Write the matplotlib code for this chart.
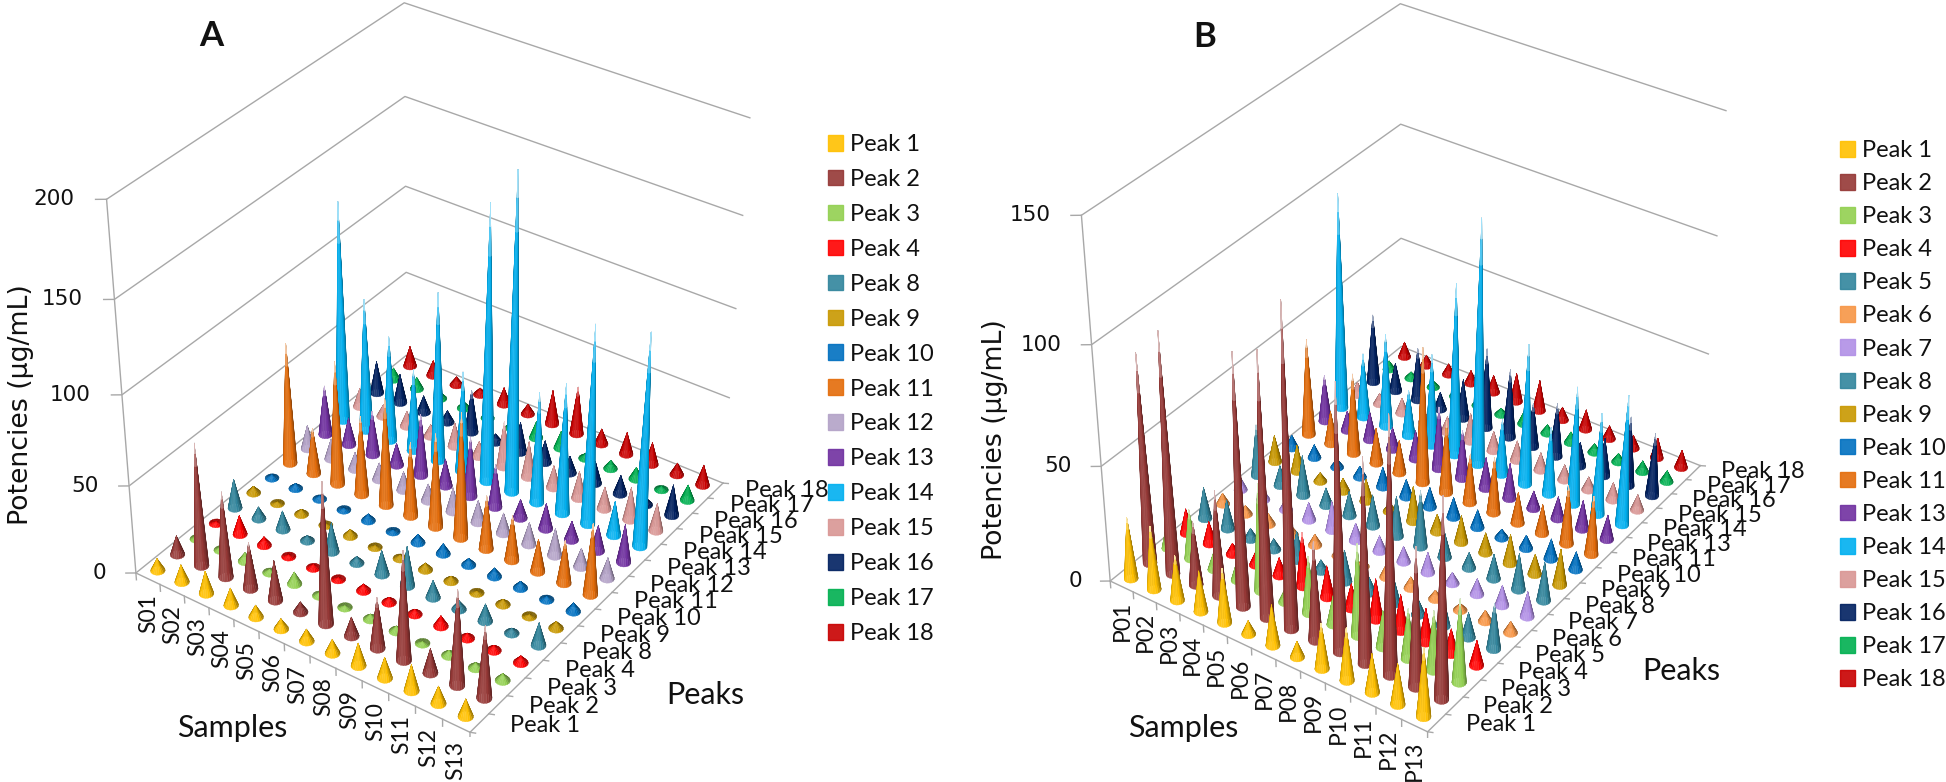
import numpy as np
import matplotlib
matplotlib.use("Agg")
import matplotlib.pyplot as plt
from matplotlib.colors import to_rgb
from matplotlib.patches import Patch
from mpl_toolkits.mplot3d import proj3d
from mpl_toolkits.mplot3d.art3d import Poly3DCollection

W, H = 1946, 782

samples_a = ["S%02d" % i for i in range(1, 14)]
samples_b = ["P%02d" % i for i in range(1, 14)]
peaks_a = [1, 2, 3, 4, 8, 9, 10, 11, 12, 13, 14, 15, 16, 17, 18]
peaks_b = [1, 2, 3, 4, 5, 6, 7, 8, 9, 10, 11, 13, 14, 15, 16, 17, 18]

peak_colors = {
    1: "#FFC000", 2: "#953735", 3: "#92D050", 4: "#FF0000", 5: "#31859C", 6: "#F79646",
    7: "#B18FE6", 8: "#31859C", 9: "#C89800", 10: "#0070C0", 11: "#E46C0A", 12: "#B3A2C7",
    13: "#7030A0", 14: "#00B0F0", 15: "#D99694", 16: "#002060", 17: "#00B050", 18: "#C80000",
}

# chart A, potencies per sample S01..S13
a1 = [7, 10, 13, 10, 7, 6, 7, 8, 13, 12, 15, 10, 10]
a2 = [11, 70, 49, 27, 23, 6, 80, 11, 29, 62, 14, 54, 41]
a3 = [2, 2, 5, 2, 7, 2, 1, 3, 3, 1, 3, 3, 4]
a4 = [1, 11, 5, 1, 2, 1, 4, 3, 3, 6, 3, 3, 4]
a8 = [17, 7, 11, 3, 17, 4, 14, 23, 10, 5, 10, 3, 13]
a9 = [4, 1, 3, 1, 4, 1, 2, 4, 3, 1, 3, 1, 4]
a10 = [2, 3, 2, 1, 4, 1, 5, 6, 4, 5, 4, 2, 5]
a11 = [70, 27, 71, 46, 62, 43, 54, 72, 31, 26, 19, 25, 41]
a12 = [14, 12, 10, 10, 11, 10, 14, 13, 12, 13, 16, 11, 12]
a13 = [29, 16, 26, 13, 36, 16, 35, 25, 11, 15, 11, 15, 22]
a14 = [126, 77, 61, 48, 97, 58, 156, 178, 64, 75, 113, 20, 120]
a15 = [11, 7, 9, 7, 14, 9, 27, 21, 13, 16, 13, 19, 16]
a16 = [19, 17, 10, 7, 25, 5, 18, 13, 10, 13, 11, 4, 18]
a17 = [7, 7, 4, 4, 3, 3, 10, 10, 3, 5, 7, 2, 9]
a18 = [12, 9, 5, 4, 10, 6, 20, 28, 9, 13, 13, 7, 12]
rows_a = [a1, a2, a3, a4, a8, a9, a10, a11, a12, a13, a14, a15, a16, a17, a18]

# chart B, potencies per sample P01..P13
b1 = [27, 28, 20, 18, 24, 6, 18, 7, 20, 23, 17, 18, 30]
b2 = [90, 103, 28, 46, 107, 112, 135, 43, 112, 87, 108, 60, 85]
b3 = [12, 22, 8, 9, 47, 6, 25, 13, 40, 16, 22, 26, 36]
b4 = [11, 10, 5, 6, 8, 24, 14, 11, 18, 16, 15, 11, 11]
b5 = [14, 13, 5, 5, 13, 5, 14, 7, 12, 7, 13, 11, 20]
b6 = [5, 4, 5, 4, 5, 3, 3, 6, 5, 4, 3, 5, 5]
b7 = [6, 5, 5, 8, 13, 8, 7, 7, 9, 5, 7, 9, 11]
b8 = [23, 9, 18, 8, 11, 14, 18, 25, 11, 7, 11, 16, 17]
b9 = [12, 12, 4, 6, 10, 4, 16, 8, 12, 9, 13, 9, 16]
b10 = [6, 6, 4, 5, 9, 8, 9, 9, 8, 4, 6, 9, 8]
b11 = [43, 15, 36, 16, 15, 60, 32, 22, 25, 14, 13, 26, 26]
b13 = [21, 9, 13, 10, 13, 28, 22, 14, 16, 8, 10, 13, 11]
b14 = [95, 29, 42, 21, 41, 76, 107, 25, 62, 30, 52, 45, 57]
b15 = [6, 5, 7, 5, 7, 13, 9, 9, 8, 7, 6, 8, 7]
b16 = [31, 13, 24, 8, 18, 36, 31, 20, 24, 11, 17, 31, 28]
b17 = [4, 3, 3, 3, 3, 3, 6, 4, 5, 4, 4, 5, 5]
b18 = [7, 5, 5, 6, 8, 13, 14, 6, 9, 6, 6, 9, 8]
rows_b = [b1, b2, b3, b4, b5, b6, b7, b8, b9, b10, b11, b13, b14, b15, b16, b17, b18]

GRID = "#A8A8A8"
TEXT = "#111111"
FACETS = 18
RADIUS = 0.235
# height bands of a tall cone: from, to, how far the colour fades to white
TALL_BANDS = [(0, 0.82, 1.0), (0.82, 0.92, 1.25), (0.92, 1.0, 1.6)]
SHORT_BANDS = [(0, 1.0, 1.0)]


def shade(rgb, f):
    rgb = np.array(rgb)
    if f <= 1:
        return tuple(rgb * f)
    return tuple(rgb + (1 - rgb) * (f - 1))


def ring(x, y, a, frac):
    r = RADIUS * (1 - frac)
    return np.array([x + r * np.cos(a), y + r * np.sin(a)])


def cone(ax, x, y, h, color, azim, zmax, z):
    rgb = to_rgb(color)
    ang = np.linspace(0, 2 * np.pi, FACETS + 1)
    bands = TALL_BANDS if h / zmax > 0.12 else SHORT_BANDS
    polys, cols = [], []
    for k in range(FACETS):
        a0, a1_ = ang[k], ang[k + 1]
        mid = (a0 + a1_) / 2 - np.radians(azim) + np.radians(15)
        c = shade(rgb, 0.62 + max(0, 0.5 * np.cos(mid)))
        for lo, hi, fade in bands:
            polys.append([(*ring(x, y, a0, lo), h * lo), (*ring(x, y, a1_, lo), h * lo),
                          (*ring(x, y, a1_, hi), h * hi), (*ring(x, y, a0, hi), h * hi)])
            cols.append(shade(c, fade))
    col = Poly3DCollection(polys, facecolors=cols, edgecolors=cols, linewidths=0.25, zorder=z)
    ax.add_collection3d(col, autolim=False)


def put_text(ax, x, y, z, s, **kw):
    # ax.text would turn the label along a 3d direction, so project it and place it flat
    px, py, _ = proj3d.proj_transform(x, y, z, ax.get_proj())
    ax.text2D(px, py, s, transform=ax.transData, color=TEXT, zorder=2, **kw)


def chart(left, bottom, side, camera, samples, peaks, rows, zmax):
    elev, azim, focal, bx, by = camera
    ax = fig.add_axes([left / W, bottom / H, side / W, side / H], projection="3d",
                      computed_zorder=False)
    ax.patch.set_alpha(0)
    ax.set_axis_off()
    nx, ny = len(samples), len(peaks)
    ax.set_xlim(0, nx, view_margin=0)
    ax.set_ylim(0, ny, view_margin=0)
    ax.set_zlim(0, zmax, view_margin=0)
    ax.view_init(elev=elev, azim=azim)
    ax.set_proj_type("persp", focal_length=focal)
    ax.set_box_aspect((bx, by, 1))

    line = dict(color=GRID, lw=1.0, zorder=1)
    for v in np.arange(0, zmax + 1, 50):
        ax.plot([-0.26, 0, 0, nx], [-0.19, 0, ny, ny], [v, v, v, v], **line)
        put_text(ax, -0.78, -0.55, v, str(int(v)), ha="right", va="center", fontsize=15.5,
                 family="DejaVu Sans")
    ax.plot([0, 0], [0, 0], [0, zmax], **line)
    ax.plot([0, nx, nx], [0, 0, ny], [0, 0, 0], **line)
    for i in range(nx + 1):
        ax.plot([i, i], [0, 0], [0, -0.02 * zmax], **line)
    for j in range(ny + 1):
        ax.plot([nx, nx + 0.2], [j, j], [0, 0.005 * zmax], **line)
    for i, s in enumerate(samples):
        put_text(ax, i + 0.5, 0, -0.044 * zmax, s, rotation=90, ha="center", va="top",
                 fontsize=16.5, family="Lato")
    for j, p in enumerate(peaks):
        put_text(ax, nx + 1.1, j + 0.5, 0.035 * zmax, "Peak %d" % p, ha="left", va="center",
                 fontsize=17, family="Lato")

    # back rows first so the front cones paint over them
    z = 10
    for j in range(ny - 1, -1, -1):
        for i in range(nx):
            cone(ax, i + 0.5, j + 0.5, rows[j][i], peak_colors[peaks[j]], azim, zmax, z)
            z += 1
    return ax


def legend(peaks, x, y, spacing):
    handles = [Patch(facecolor=peak_colors[p], edgecolor=peak_colors[p], alpha=0.9) for p in peaks]
    labels = ["Peak %d" % p for p in peaks]
    fig.legend(handles, labels, loc="upper left", bbox_to_anchor=(x / W, 1 - y / H), frameon=False,
               ncol=1, borderpad=0, borderaxespad=0, handlelength=0.64, handleheight=0.64,
               handletextpad=0.3, labelspacing=spacing, prop={"family": "Lato", "size": 17},
               labelcolor=TEXT)


fig = plt.figure(figsize=(W / 100, H / 100), dpi=100)

chart(49.1, 44.7, 752.7, (34.863, -54.883, 0.692, 0.924, 1.06), samples_a, peaks_a, rows_a, 200)
chart(1024.6, 43.8, 756.9, (34.629, -54.98, 0.689, 0.898, 1.173), samples_b, peaks_b, rows_b, 150)

legend(peaks_a, 828, 134, 0.59)
legend(peaks_b, 1840, 140, 0.512)


def label(x, y, s, **kw):
    fig.text(x / W, 1 - y / H, s, ha="center", va="center", color=TEXT, **kw)


label(211, 36, "A", fontsize=25, fontweight="bold", family="Lato")
label(1205, 37, "B", fontsize=25, fontweight="bold", family="Lato")
label(21, 405, "Potencies (µg/mL)", rotation=90, fontsize=19.3, family="DejaVu Sans")
label(995, 440, "Potencies (µg/mL)", rotation=90, fontsize=19.3, family="DejaVu Sans")
label(232, 728, "Samples", fontsize=22, family="Lato")
label(1183, 728, "Samples", fontsize=22, family="Lato")
label(705, 695, "Peaks", fontsize=22, family="Lato")
label(1681, 671, "Peaks", fontsize=22, family="Lato")

fig.savefig("out.png", dpi=100)
plt.close()
